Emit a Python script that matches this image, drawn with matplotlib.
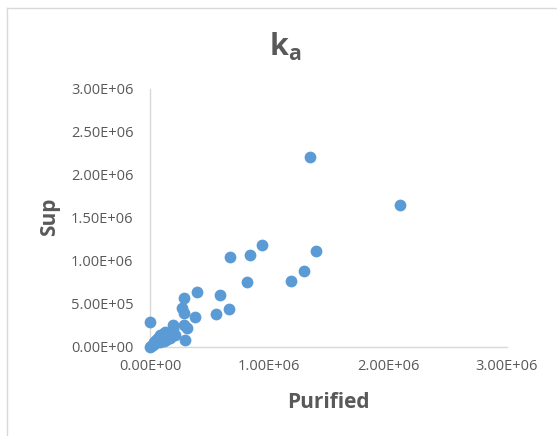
import matplotlib.pyplot as plt
from matplotlib.lines import Line2D
from matplotlib.ticker import FuncFormatter

# --- DATA (values in millions) ---
purified = [0.000, 0.008, 0.025, 0.042, 0.059, 0.076, 0.092, 0.109, 0.126, 0.151,
            0.176, 0.193, 0.084, 0.134, 0.050, 0.168, 0.210, 0.193, 0.286, 0.313,
            0.290, 0.000, 0.266, 0.283, 0.375, 0.286, 0.398, 0.588, 0.552, 0.666,
            0.818, 0.672, 0.840, 0.941, 1.185, 1.297, 1.398, 1.345, 2.100,
            0.030, 0.070, 0.110, 0.150, 0.120, 0.180, 0.084, 0.126]
sup = [0.000, 0.012, 0.023, 0.047, 0.058, 0.081, 0.093, 0.105, 0.128, 0.151,
       0.174, 0.209, 0.058, 0.081, 0.080, 0.105, 0.140, 0.256, 0.256, 0.217,
       0.080, 0.287, 0.455, 0.390, 0.345, 0.566, 0.640, 0.601, 0.387, 0.438,
       0.756, 1.043, 1.073, 1.178, 0.767, 0.884, 1.116, 2.210, 1.650,
       0.060, 0.110, 0.150, 0.120, 0.070, 0.130, 0.140, 0.178]
purified = [v * 1e6 for v in purified]
sup = [v * 1e6 for v in sup]

x_ticks = [0, 1e6, 2e6, 3e6]
y_ticks = [0, 0.5e6, 1e6, 1.5e6, 2e6, 2.5e6, 3e6]

plt.rcParams['font.family'] = ['Open Sans', 'DejaVu Sans']
grey = '#595959'

fig = plt.figure(figsize=(5.57, 4.36), dpi=100)
ax = fig.add_axes([150/557, 1 - 347/436, 357/557, 258.5/436])

ax.scatter(purified, sup, s=72, color='#5B9BD5', linewidths=0,
           zorder=3, clip_on=False)

ax.set_xlim(0, 3e6)
ax.set_ylim(0, 3e6)
ax.set_xticks(x_ticks)
ax.set_yticks(y_ticks)
sci = FuncFormatter(lambda v, p: ('%.2E' % v))
ax.xaxis.set_major_formatter(sci)
ax.yaxis.set_major_formatter(sci)
ax.tick_params(length=0, labelsize=10.5, colors=grey)
ax.tick_params(axis='x', pad=9)
ax.tick_params(axis='y', pad=12)

for side in ['top', 'right']:
    ax.spines[side].set_visible(False)
for side in ['left', 'bottom']:
    ax.spines[side].set_color('#D9D9D9')
    ax.spines[side].set_linewidth(1)

ax.set_xlabel('Purified', fontsize=15, fontweight='bold', color=grey, va='center')
ax.set_ylabel('Sup', fontsize=15, fontweight='bold', color=grey, va='center')
ax.xaxis.set_label_coords((328 - 150) / 357, (347 - 402) / 258.5)
ax.yaxis.set_label_coords((50 - 150) / 357, (347 - 217) / 258.5)
fig.text(285/557, 1 - 47/436, r'k$_\mathregular{a}$', fontsize=22, fontweight='bold',
         color=grey, ha='center', va='center')

# chart border (only left and top edges are inside the crop)
fig.add_artist(Line2D([7/557, 7/557], [0, 1 - 8/436], color='#D9D9D9', lw=1))
fig.add_artist(Line2D([7/557, 1], [1 - 8/436, 1 - 8/436], color='#D9D9D9', lw=1))

fig.savefig('out.png', dpi=100)
